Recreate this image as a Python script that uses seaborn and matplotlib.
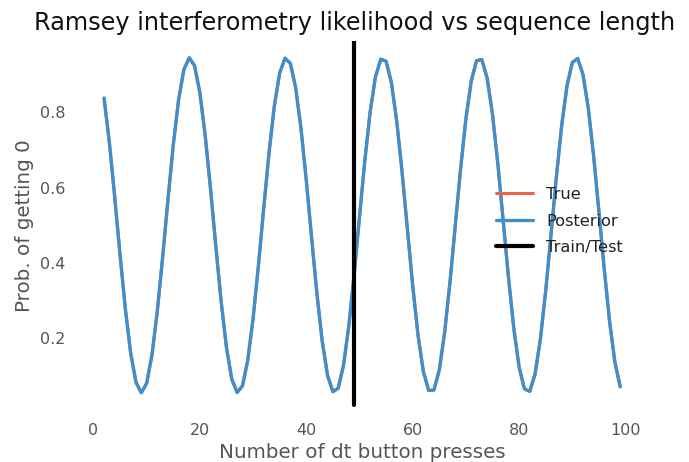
import matplotlib
matplotlib.use("Agg")
import matplotlib.pyplot as plt
import seaborn as sns
import pandas as pd

# Data
presses = list(range(2, 100))
posterior_prob = [
    0.8376, 0.7191, 0.5748, 0.4215, 0.2775, 0.1600, 0.0827, 0.0550, 0.0801, 0.1551,
    0.2709, 0.4139, 0.5672, 0.7124, 0.8325, 0.9131, 0.9447, 0.9235, 0.8521, 0.7390,
    0.5974, 0.4442, 0.2977, 0.1753, 0.0913, 0.0558, 0.0730, 0.1409, 0.2515, 0.3914,
    0.5443, 0.6919, 0.8168, 0.9040, 0.9434, 0.9300, 0.8657, 0.7581, 0.6197, 0.4672,
    0.3186, 0.1915, 0.1010, 0.0578, 0.0671, 0.1278, 0.2327, 0.3692, 0.5213, 0.6708,
    0.8002, 0.8938, 0.9408, 0.9354, 0.8784, 0.7765, 0.6418, 0.4903, 0.3399, 0.2085,
    0.1117, 0.0610, 0.0624, 0.1157, 0.2146, 0.3473, 0.4982, 0.6493, 0.7827, 0.8825,
    0.9370, 0.9396, 0.8900, 0.7942, 0.6634, 0.5133, 0.3616, 0.2263, 0.1234, 0.0653,
    0.0588, 0.1045, 0.1972, 0.3259, 0.4752, 0.6274, 0.7645, 0.8702, 0.9320, 0.9426,
    0.9006, 0.8111, 0.6847, 0.5364, 0.3837, 0.2449, 0.1362, 0.0709,
]
true_prob = list(posterior_prob)
train_test_split = 49

title = "Ramsey interferometry likelihood vs sequence length"
xlabel = "Number of dt button presses"
ylabel = "Prob. of getting 0"

sns.set_style("white")
plt.rcParams['font.family'] = ['DejaVu Sans']

df = pd.DataFrame({"x": presses, "true": true_prob, "posterior": posterior_prob})

fig = plt.figure(figsize=(6.89, 4.62), dpi=100)
ax = fig.add_axes([0.1136, 0.1136, 0.9376 - 0.1136, 0.9113 - 0.1136])

sns.lineplot(data=df, x="x", y="true", ax=ax, color="#EE6446", lw=2.2, label="True")
sns.lineplot(data=df, x="x", y="posterior", ax=ax, color="#3E8FCC", lw=2.4, label="Posterior")
ax.axvline(train_test_split, ymin=0.012, color="black", lw=3, label="Train/Test")

for s in ax.spines.values():
    s.set_visible(False)

gray = "#555555"
ax.tick_params(axis="both", which="major", length=3.5, width=0.8, color="#888888",
               labelcolor=gray, labelsize=11.5, direction="out", pad=6)
ax.set_xticks([0, 20, 40, 60, 80, 100])
ax.set_yticks([0.2, 0.4, 0.6, 0.8])
ax.set_xlabel(xlabel, fontsize=14.3, color=gray)
ax.set_ylabel(ylabel, fontsize=14.3, color=gray)
ax.set_title(title, fontsize=17.3, color="#111111", pad=8, x=0.487)

leg = ax.legend(loc="center left", bbox_to_anchor=(0.710, 0.5115), frameon=False,
                fontsize=11.7, handlelength=2.3, labelspacing=0.7)
for t in leg.get_texts():
    t.set_color("#222222")

fig.savefig("out.png", dpi=100)
